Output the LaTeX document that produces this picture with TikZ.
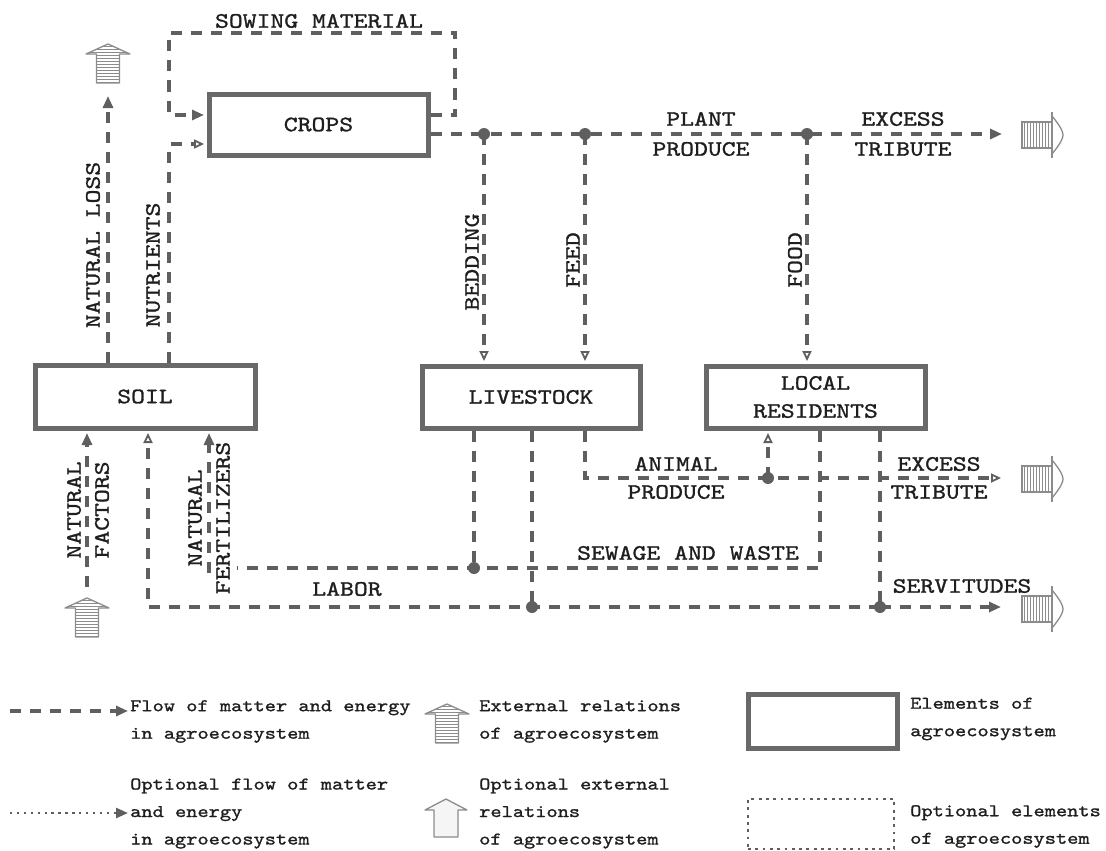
\documentclass[tikz,border=0pt]{standalone}
\usepackage{fontspec}
\usetikzlibrary{arrows.meta}
\newfontfamily\dgfont{lmmono10-regular.otf}[FakeStretch=1.2,FakeBold=1.2]
\newcommand\lblfont{\dgfont\fontsize{22}{28}\selectfont}
\newcommand\lgdfont{\dgfont\fontsize{17.8}{27.5}\selectfont}
\definecolor{ln}{RGB}{95,95,95}
\definecolor{bx}{RGB}{105,105,105}
\definecolor{tx}{RGB}{30,30,30}
\definecolor{st}{RGB}{140,140,140}
\tikzset{
  tipf/.tip={Triangle[length=12pt,width=10pt]},
  tipo/.tip={Triangle[open,length=10pt,width=9pt,line width=1.8pt]},
  flow/.style={draw=ln, line width=3.2pt, dash pattern=on 11pt off 9pt},
  intobox/.style={shorten >=2.5pt},
  elem/.style={draw=bx, line width=5pt, fill=white, rectangle, inner sep=0pt, font=\lblfont, text=tx, align=center},
  jdot/.style={circle, fill=ln, inner sep=0pt, minimum size=12pt},
  lbl/.style={font=\lblfont, text=tx, align=center, inner sep=0pt},
  lgd/.style={font=\lgdfont, text=tx, align=left, anchor=west, inner sep=0pt},
  extup/.pic={
    \begin{scope}
      \clip (0,0) -- (22,10) -- (11.5,10) -- (11.5,39) -- (-11.5,39) -- (-11.5,10) -- (-22,10) -- cycle;
      \foreach \yy in {2,5,...,38} \draw[st, line width=0.9pt] (-23,\yy) -- (23,\yy);
    \end{scope}
    \draw[st, line width=1.3pt, line join=round] (0,0) -- (22,10) -- (11.5,10) -- (11.5,39) -- (-11.5,39) -- (-11.5,10) -- (-22,10) -- cycle;
  },
  optup/.pic={
    \draw[st, fill=gray!8, line width=1.3pt, line join=round] (0,0) -- (21,11) -- (12,11) -- (12,38) -- (-12,38) -- (-12,11) -- (-21,11) -- cycle;
  },
  extright/.pic={
    \begin{scope}
      \clip (0,-13) rectangle (30,13);
      \foreach \xx in {2,5,...,29} \draw[st, line width=0.9pt] (\xx,-14) -- (\xx,14);
    \end{scope}
    \draw[st, line width=1.3pt] (0,-13) rectangle (30,13);
    \draw[st, line width=1.3pt] (30,-23) -- (30,23);
    \draw[st, line width=1.3pt] (30,-19) .. controls (39,-8) and (41,-3) .. (41,0) .. controls (41,3) and (39,8) .. (30,19);
  }
}
\begin{document}
\begin{tikzpicture}[x=1pt,y=-1pt]
\useasboundingbox (0,0) rectangle (1106,851);

% elements
\node[elem, minimum width=219pt, minimum height=61pt] (crops) at (318.5,124.5) {CROPS};
\node[elem, minimum width=220pt, minimum height=63pt] (soil) at (145,396.5) {SOIL};
\node[elem, minimum width=218pt, minimum height=62pt] (livestock) at (531,397) {LIVESTOCK};
\node[elem, minimum width=219pt, minimum height=62pt] (residents) at (815.5,397) {LOCAL\\RESIDENTS};

% junction dots
\node[jdot] (d1) at (484,134) {};
\node[jdot] (d2) at (585,134) {};
\node[jdot] (d3) at (807,134) {};
\node[jdot] (d4) at (474,568) {};
\node[jdot] (d5) at (532,607) {};
\node[jdot] (d6) at (768,478) {};
\node[jdot] (d7) at (880,607) {};

% coordinates
\coordinate (sowR) at (455,115);
\coordinate (sowRT) at (455,33);
\coordinate (sowLT) at (169,33);
\coordinate (sowL) at (169,115);
\coordinate (nutC) at (169,144);
\coordinate (nlT) at (108,96);
\coordinate (ppE) at (1002,134);
\coordinate (apC) at (585,478);
\coordinate (apE) at (1001,478);
\coordinate (swC) at (820,568);
\coordinate (swL) at (237,568);
\coordinate (nfB) at (209,573);
\coordinate (lbC) at (148,607);
\coordinate (svE) at (1001,607);
\coordinate (nfaB) at (87,587);

% flows
\draw[flow,-tipf,intobox] (crops.east |- sowR) -- (sowR) -- (sowRT) -- (sowLT) -- (sowL) -- (crops.west |- sowL);
\draw[flow,-tipo,intobox] (soil.north -| nutC) -- (nutC) -- (crops.west |- nutC);
\draw[flow,-tipf] (soil.north -| nlT) -- (nlT);
\draw[flow,-tipf] (crops.east |- d1) -- (d1.center) -- (d2.center) -- (d3.center) -- (ppE);
\draw[flow,-tipo,intobox] (d1.center) -- (livestock.north -| d1);
\draw[flow,-tipo,intobox] (d2.center) -- (livestock.north -| d2);
\draw[flow,-tipo,intobox] (d3.center) -- (residents.north -| d3);
\draw[flow] (livestock.south -| d4) -- (d4.center);
\draw[flow] (livestock.south -| d5) -- (d5.center);
\draw[flow,-tipo] (livestock.south -| apC) -- (apC) -- (d6.center) -- (apE);
\draw[flow,-tipo,intobox] (d6.center) -- (residents.south -| d6);
\draw[flow] (residents.south -| swC) -- (swC) -- (d4.center) -- (swL);
\draw[flow,-tipf,intobox] (nfB) -- (soil.south -| nfB);
\draw[flow] (residents.south -| d7) -- (d7.center);
\draw[flow,-tipo,intobox] (d7.center) -- (d5.center) -- (lbC) -- (soil.south -| lbC);
\draw[flow,-tipf] (d7.center) -- (svE);
\draw[flow,-tipf,intobox] (nfaB) -- (soil.south -| nfaB);

% external relations
\pic at (108,44) {extup};
\pic at (87,598) {extup};
\pic at (1022,135) {extright};
\pic at (1022,479) {extright};
\pic at (1022,609) {extright};

% labels
\node[lbl] at (319,21) {SOWING MATERIAL};
\node[lbl, rotate=90] at (93,245) {NATURAL LOSS};
\node[lbl, rotate=90] at (153,265) {NUTRIENTS};
\node[lbl] at (701,134) {PLANT\\[2pt]PRODUCE};
\node[lbl] at (903,134) {EXCESS\\[2pt]TRIBUTE};
\node[lbl, rotate=90] at (472,262) {BEDDING};
\node[lbl, rotate=90] at (573,260) {FEED};
\node[lbl, rotate=90] at (795,260) {FOOD};
\node[lbl] at (676,478) {ANIMAL\\PRODUCE};
\node[lbl] at (939,478) {EXCESS\\TRIBUTE};
\node[lbl] at (688,553) {SEWAGE AND WASTE};
\node[lbl] at (347,589) {LABOR};
\node[lbl] at (962,586) {SERVITUDES};
\node[lbl, rotate=90] at (88,510) {NATURAL\\FACTORS};
\node[lbl, rotate=90] at (209,518) {NATURAL\\FERTILIZERS};

% legend
\coordinate (lfa) at (10,711);
\coordinate (lfb) at (128,711);
\draw[flow,-tipf] (lfa) -- (lfb);
\coordinate (loa) at (10,813);
\coordinate (lob) at (128,813);
\draw[draw=ln, line width=2.4pt, dash pattern=on 2.4pt off 4.5pt, -tipf] (loa) -- (lob);
\node[lgd] (lt1) at (130,721.5) {Flow of matter and energy\\in agroecosystem};
\node[lgd] (lt2) at (130,813.5) {Optional flow of matter\\and energy\\in agroecosystem};
\pic at (447,704) {extup};
\pic at (446,799) {optup};
\node[lgd] (lt3) at (479,721.5) {External relations\\of agroecosystem};
\node[lgd] (lt4) at (479,813.5) {Optional external\\relations\\of agroecosystem};
\node[elem, minimum width=149pt, minimum height=54pt] (lgbox) at (822.5,721) {};
\node[draw=ln, line width=2.8pt, dash pattern=on 2.8pt off 4.5pt, minimum width=146pt, minimum height=50pt, inner sep=0pt] (lgopt) at (821,824) {};
\node[lgd] (lt5) at (910,719) {Elements of\\agroecosystem};
\node[lgd] (lt6) at (910,826.5) {Optional elements\\of agroecosystem};
\end{tikzpicture}
\end{document}
